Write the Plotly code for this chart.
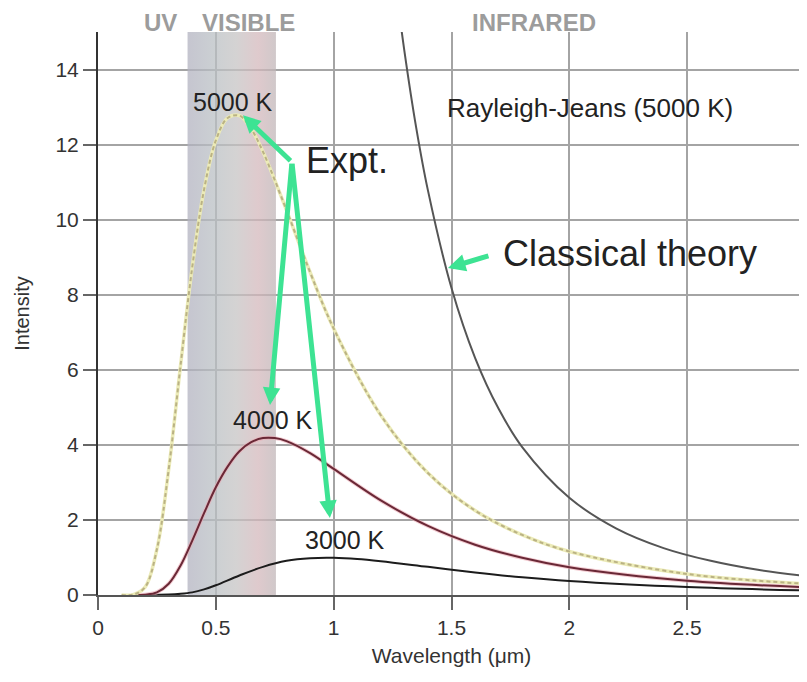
import plotly.graph_objects as go

# ---- data ----
wavelength_5000 = [0.10, 0.15, 0.20, 0.25, 0.30, 0.35, 0.40, 0.45, 0.50, 0.55, 0.60, 0.65, 0.70,
                   0.80, 0.90, 1.00, 1.20, 1.40, 1.60, 1.80, 2.00, 2.50, 3.00]
intensity_5000 = [0.00, 0.01, 0.21, 1.22, 3.35, 6.10, 8.74, 10.80, 12.11, 12.71, 12.77, 12.42, 11.81,
                  10.25, 8.60, 7.10, 4.79, 3.25, 2.25, 1.60, 1.16, 0.56, 0.30]

wavelength_4000 = [0.15, 0.20, 0.25, 0.30, 0.35, 0.40, 0.45, 0.50, 0.55, 0.60, 0.65, 0.70, 0.75,
                   0.80, 0.90, 1.00, 1.20, 1.40, 1.60, 1.80, 2.00, 2.50, 3.00]
intensity_4000 = [0.00, 0.01, 0.07, 0.30, 0.78, 1.45, 2.18, 2.87, 3.42, 3.83, 4.07, 4.18, 4.18,
                  4.10, 3.78, 3.36, 2.52, 1.84, 1.34, 0.99, 0.74, 0.38, 0.21]

wavelength_3000 = [0.20, 0.30, 0.35, 0.40, 0.45, 0.50, 0.60, 0.70, 0.80, 0.90, 1.00, 1.10, 1.20,
                   1.40, 1.60, 1.80, 2.00, 2.50, 3.00]
intensity_3000 = [0.00, 0.01, 0.03, 0.07, 0.15, 0.26, 0.52, 0.75, 0.91, 0.98, 0.99, 0.96, 0.90,
                  0.75, 0.60, 0.47, 0.37, 0.21, 0.12]

wavelength_rj = [1.26, 1.30, 1.35, 1.40, 1.50, 1.60, 1.70, 1.80, 2.00, 2.20, 2.40, 2.60, 2.80, 3.00]
intensity_rj = [16.4, 14.5, 12.46, 10.78, 8.18, 6.32, 4.96, 3.94, 2.59, 1.77, 1.25, 0.91, 0.67, 0.51]

visible_band = [0.38, 0.755]
x_ticks = [0, 0.5, 1, 1.5, 2, 2.5, 3]
x_tick_labels = ["0", "0.5", "1", "1.5", "2", "2.5", "3"]
y_ticks = [0, 2, 4, 6, 8, 10, 12, 14]
y_tick_labels = ["0", "2", "4", "6", "8", "10", "12", "14"]
X_RANGE = [0, 3]
Y_RANGE = [0, 15]

FONT = "Liberation Sans, Arial, Helvetica, sans-serif"
GREEN = "#3de393"

fig = go.Figure()

# visible band with colour gradient
fig.add_trace(go.Scatter(
    x=[visible_band[0], visible_band[1], visible_band[1], visible_band[0], visible_band[0]],
    y=[Y_RANGE[0], Y_RANGE[0], Y_RANGE[1], Y_RANGE[1], Y_RANGE[0]],
    mode="lines", line=dict(width=0), fill="toself",
    fillgradient=dict(type="horizontal", colorscale=[
        [0.0, "rgba(178,178,192,0.75)"],
        [0.3, "rgba(186,192,196,0.75)"],
        [0.55, "rgba(198,196,196,0.75)"],
        [0.8, "rgba(212,184,188,0.75)"],
        [1.0, "rgba(192,182,184,0.75)"],
    ]),
    hoverinfo="skip", showlegend=False))

# Rayleigh-Jeans
fig.add_trace(go.Scatter(x=wavelength_rj, y=intensity_rj, mode="lines",
                         line=dict(color="#555555", width=2, shape="spline"),
                         showlegend=False))
# 3000 K
fig.add_trace(go.Scatter(x=wavelength_3000, y=intensity_3000, mode="lines",
                         line=dict(color="#1c1c1c", width=2, shape="spline"),
                         showlegend=False))
# 4000 K (halo + line)
fig.add_trace(go.Scatter(x=wavelength_4000, y=intensity_4000, mode="lines",
                         line=dict(color="rgba(235,170,180,0.6)", width=4, shape="spline"),
                         showlegend=False, hoverinfo="skip"))
fig.add_trace(go.Scatter(x=wavelength_4000, y=intensity_4000, mode="lines",
                         line=dict(color="#6a2836", width=2, shape="spline"),
                         showlegend=False))
# 5000 K (pale yellow + dashed khaki)
fig.add_trace(go.Scatter(x=wavelength_5000, y=intensity_5000, mode="lines",
                         line=dict(color="#ecebb8", width=3.5, shape="spline"),
                         showlegend=False, hoverinfo="skip"))
fig.add_trace(go.Scatter(x=wavelength_5000, y=intensity_5000, mode="lines",
                         line=dict(color="#bab284", width=2, dash="4px,3px", shape="spline"),
                         showlegend=False))

annotations = []

def label(text, x, y, size, color="#222222", bold=False, yref="y"):
    annotations.append(dict(
        text=f"<b>{text}</b>" if bold else text, x=x, y=y, xref="x", yref=yref,
        showarrow=False, font=dict(family=FONT, size=size, color=color),
        xanchor="center", yanchor="middle", borderpad=0))

label("UV", 0.267, 1.017, 24, color="#9c9c9c", bold=True, yref="paper")
label("VISIBLE", 0.64, 1.017, 24, color="#9c9c9c", bold=True, yref="paper")
label("INFRARED", 1.85, 1.017, 24, color="#9c9c9c", bold=True, yref="paper")
label("5000 K", 0.573, 13.13, 25)
label("4000 K", 0.742, 4.66, 25)
label("3000 K", 1.048, 1.46, 25)
label("Rayleigh-Jeans (5000 K)", 2.087, 12.97, 26)
label("Expt.", 1.056, 11.58, 36)
label("Classical theory", 2.257, 9.1, 36)

# green arrows
def arrow(x, y, ax, ay):
    annotations.append(dict(
        x=x, y=y, ax=ax, ay=ay, xref="x", yref="y", axref="x", ayref="y",
        text="", showarrow=True, arrowhead=2, arrowsize=0.7, arrowwidth=5,
        arrowcolor=GREEN, standoff=0, startstandoff=0))

arrow(0.615, 12.78, 0.823, 11.53)
arrow(0.730, 5.06, 0.823, 11.53)
arrow(0.984, 2.05, 0.823, 11.53)
arrow(1.485, 8.71, 1.663, 9.05)

# margins compensate for the 8px default page margin of the html body
fig.update_layout(
    width=807, height=682,
    margin=dict(l=90, r=10, t=24, b=95),
    paper_bgcolor="white", plot_bgcolor="white",
    font=dict(family=FONT, color="#333333"),
    annotations=annotations,
    showlegend=False,
)
fig.update_xaxes(
    range=X_RANGE, tickvals=x_ticks, ticktext=x_tick_labels,
    showgrid=True, gridcolor="#a4a4a4", gridwidth=2,
    showline=True, linecolor="#555555", linewidth=2,
    ticks="outside", ticklen=13, tickwidth=2, tickcolor="#666666",
    tickfont=dict(size=21, color="#333333"),
    zeroline=False, automargin=False,
    title=dict(text="Wavelength (μm)", font=dict(size=21, color="#333333"), standoff=10),
)
fig.update_yaxes(
    range=Y_RANGE, tickvals=y_ticks, ticktext=y_tick_labels,
    showgrid=True, gridcolor="#a4a4a4", gridwidth=2,
    showline=True, linecolor="#333333", linewidth=2,
    ticks="outside", ticklen=13, tickwidth=2, tickcolor="#666666",
    tickfont=dict(size=21, color="#333333"),
    zeroline=False, automargin=False,
    title=dict(text="Intensity", font=dict(size=20, color="#333333"), standoff=20),
)

fig.write_html("out.html")
